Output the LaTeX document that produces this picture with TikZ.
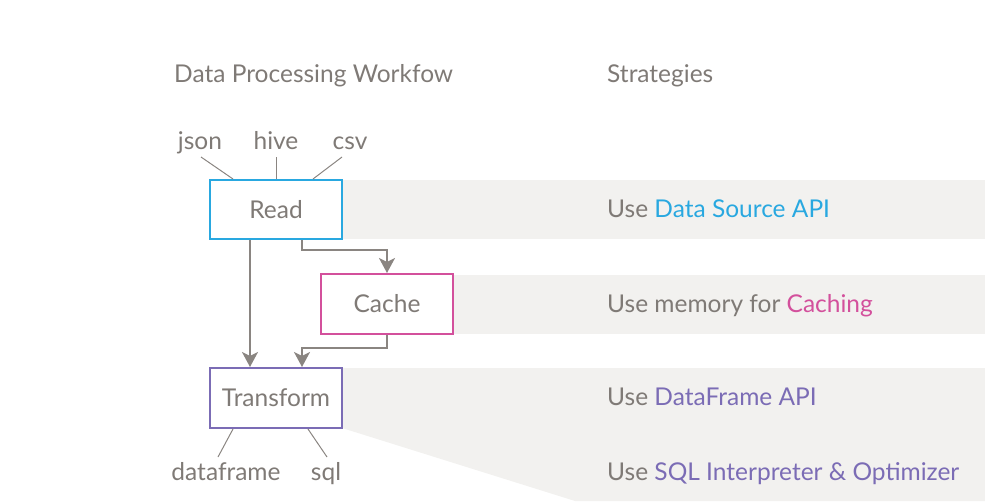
\documentclass[tikz,border=0pt]{standalone}
\usepackage{fontspec}
\setmainfont{Lato}
\usetikzlibrary{arrows.meta}
\definecolor{txt}{HTML}{7F7A76}
\definecolor{band}{HTML}{F2F1EF}
\definecolor{cblue}{HTML}{29A8E0}
\definecolor{cpink}{HTML}{D3509C}
\definecolor{cpurple}{HTML}{7B6CB5}
\definecolor{arr}{HTML}{8A8581}
\tikzset{
  lbl/.style={text=txt, inner sep=0pt},
  box/.style={draw, line width=2pt, fill=white, minimum width=132pt, minimum height=59pt, inner sep=0pt, text=txt},
  flow/.style={draw=arr, line width=2pt, -{Stealth[length=15pt,width=16pt,inset=4pt]}},
  thin/.style={draw=arr, line width=1pt},
  bandfill/.style={fill=band, draw=none}
}
\begin{document}
\begin{tikzpicture}[x=1pt,y=-1pt, font=\fontsize{24.5}{28}\selectfont]
\useasboundingbox (0,0) rectangle (985,501);
% background bands
\fill[band] (342,180) rectangle (985,239);
\fill[band] (453,275) rectangle (985,334);
\fill[band] (342,368) -- (985,368) -- (985,501) -- (575,501) -- (342,428) -- cycle;
% titles
\node[lbl, anchor=base west] (t1) at (174,82) {Data Processing Workfow};
\node[lbl, anchor=base west] (t2) at (607,82) {Strategies};
% boxes
\node[box, draw=cblue] (read) at (276,209.5) {Read};
\node[box, draw=cpink, minimum height=60pt] (cache) at (387,304) {Cache};
\node[box, draw=cpurple, minimum height=60pt] (transform) at (276,398) {Transform};
% inputs
\node[lbl, anchor=base] (json) at (200,149) {json};
\node[lbl, anchor=base] (hive) at (276,149) {hive};
\node[lbl, anchor=base] (csv) at (350,149) {csv};
\draw[thin] ([xshift=1pt,yshift=-8pt]json.base) -- ([xshift=24pt]read.north west);
\draw[thin] ([yshift=-8pt]hive.base) -- (read.north);
\draw[thin] ([xshift=-8pt,yshift=-8pt]csv.base) -- ([xshift=-30pt]read.north east);
% outputs
\node[lbl, anchor=base] (df) at (226,480) {dataframe};
\node[lbl, anchor=base] (sql) at (326,480) {sql};
\draw[thin] ([xshift=24pt]transform.south west) -- ([xshift=-8pt,yshift=23pt]df.base);
\draw[thin] ([xshift=-35pt]transform.south east) -- ([xshift=1pt,yshift=23pt]sql.base);
% flows
\draw[flow] ([xshift=-26pt]read.south) -- ([xshift=-26pt]transform.north);
\draw[flow] ([xshift=26pt]read.south) -- ++(0,10) -| (cache.north);
\draw[flow] (cache.south) -- ++(0,13) -| ([xshift=26pt]transform.north);
% strategies
\node[lbl, anchor=base west] (s1) at (607,217) {Use \textcolor{cblue}{Data Source API}};
\node[lbl, anchor=base west] (s2) at (607,312) {Use memory for \textcolor{cpink}{Caching}};
\node[lbl, anchor=base west] (s3) at (607,405) {Use \textcolor{cpurple}{DataFrame API}};
\node[lbl, anchor=base west] (s4) at (607,480) {Use \textcolor{cpurple}{SQL Interpreter \& Optimizer}};
\end{tikzpicture}
\end{document}
